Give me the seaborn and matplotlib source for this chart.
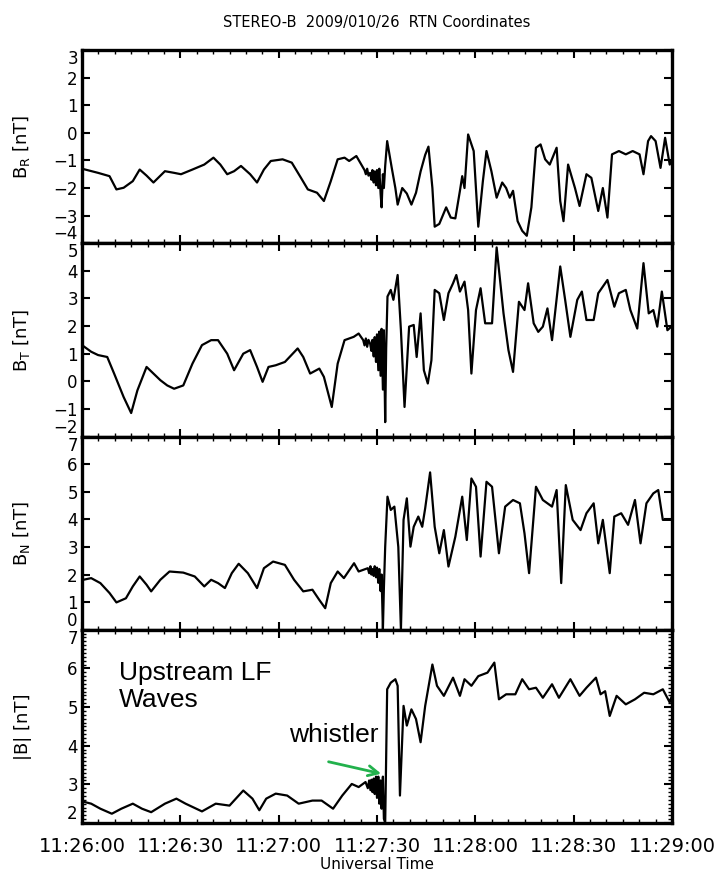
import matplotlib
matplotlib.use("Agg")
import matplotlib.pyplot as plt
import seaborn as sns
import pandas as pd
from matplotlib.ticker import FixedLocator, MultipleLocator

sns.set_style("ticks")
plt.rcParams['font.family'] = ['DejaVu Sans']
for k in ["text.color", "axes.labelcolor", "xtick.color", "ytick.color", "axes.edgecolor"]:
    plt.rcParams[k] = "black"

# ---- data: seconds after 11:26:00 and field values [nT] ----
t_br = [0.0, 4.9, 8.4, 10.5, 12.7, 15.5, 17.6, 19.7, 21.8, 25.3, 28.1, 30.2, 33.7, 37.3, 40.1,
        42.2, 44.3, 46.4, 48.5, 51.3, 53.4, 55.5, 57.6, 61.2, 64.0, 66.8, 68.9, 71.7, 73.8, 75.9,
        78.0, 80.1, 81.5, 83.7, 85.8, 86.2, 86.6, 87.0, 87.4, 87.9, 88.3, 88.6, 89.0, 89.3, 89.7,
        90.0, 90.4, 90.7, 91.1, 91.4, 91.8, 92.1, 92.5, 93.1, 94.5, 95.6, 96.3, 97.7, 99.1, 100.5,
        101.9, 103.3, 104.7, 105.7, 106.9, 107.6, 109.0, 111.1, 112.5, 113.9, 115.3, 116.0, 116.7,
        117.8, 119.5, 120.9, 122.3, 123.4, 124.9, 126.5, 128.2, 129.4, 130.5, 131.5, 132.9, 134.3,
        135.7, 137.1, 138.5, 139.9, 141.3, 142.7, 144.8, 145.9, 146.9, 148.3, 150.4, 151.8, 153.9,
        155.4, 157.5, 158.9, 160.3, 161.7, 163.8, 165.9, 168.0, 170.1, 171.3, 172.7, 173.6, 175.0,
        176.5, 177.9, 179.3, 180.0]
v_br = [-1.3, -1.45, -1.57, -2.05, -1.99, -1.75, -1.33, -1.55, -1.8, -1.39, -1.45, -1.5, -1.33,
        -1.15, -0.9, -1.15, -1.5, -1.39, -1.2, -1.5, -1.8, -1.33, -1.02, -0.96, -1.08, -1.63, -2.05,
        -2.17, -2.47, -1.75, -0.96, -0.9, -1.02, -0.84, -1.27, -1.35, -1.5, -1.3, -1.55, -1.45,
        -1.7, -1.35, -1.8, -1.4, -1.9, -1.35, -2.0, -1.3, -2.2, -2.7, -1.5, -2.0, -1.2, -0.3, -1.27,
        -2.0, -2.6, -2.0, -2.2, -2.6, -2.17, -1.4, -0.8, -0.5, -2.0, -3.4, -3.3, -2.7, -3.07, -3.1,
        -2.1, -1.57, -2.0, -0.06, -0.66, -3.4, -1.75, -0.66, -1.39, -2.35, -1.8, -2.0, -2.35, -2.1,
        -3.2, -3.55, -3.73, -2.7, -0.54, -0.42, -0.96, -1.15, -0.54, -2.47, -3.2, -1.15, -2.0, -2.65,
        -1.5, -1.63, -2.83, -2.0, -3.07, -0.78, -0.66, -0.78, -0.66, -0.78, -1.5, -0.3, -0.12, -0.3,
        -1.27, -0.18, -1.15, -1.0]

t_bt = [0.0, 2.8, 4.9, 7.7, 9.8, 12.7, 15.0, 16.9, 19.7, 21.8, 23.9, 26.0, 28.1, 30.9, 33.7,
        36.6, 39.4, 41.5, 44.3, 46.4, 49.2, 51.3, 53.4, 55.1, 56.9, 59.1, 61.9, 65.8, 67.5, 69.6,
        72.4, 73.8, 76.2, 78.0, 80.1, 82.9, 84.4, 85.8, 86.2, 86.6, 87.0, 87.4, 87.9, 88.3, 88.6,
        89.0, 89.3, 89.7, 90.0, 90.4, 90.7, 91.1, 91.4, 91.8, 92.1, 92.5, 92.8, 93.2, 94.2, 95.0,
        96.3, 97.3, 98.4, 99.8, 101.2, 102.1, 103.3, 104.3, 105.5, 106.6, 107.6, 109.0, 110.4,
        111.8, 113.2, 114.2, 115.3, 116.7, 117.8, 118.8, 120.2, 121.6, 123.0, 125.1, 126.5, 128.6,
        130.1, 131.5, 133.3, 135.0, 136.1, 137.8, 139.2, 140.6, 142.0, 143.4, 145.9, 147.4, 149.0,
        151.1, 152.5, 153.9, 156.1, 157.5, 160.3, 162.4, 163.8, 165.9, 167.3, 169.4, 171.3, 172.9,
        174.3, 175.5, 176.9, 178.6, 180.0]
v_bt = [1.31, 1.07, 0.95, 0.88, 0.28, -0.57, -1.15, -0.33, 0.52, 0.28, 0.04, -0.15, -0.27,
        -0.15, 0.64, 1.31, 1.49, 1.49, 1.0, 0.4, 1.0, 1.13, 0.52, -0.02, 0.52, 0.58, 0.7, 1.19,
        0.88, 0.28, 0.46, 0.16, -0.93, 0.64, 1.49, 1.61, 1.73, 1.49, 1.3, 1.55, 1.25, 1.5, 1.37,
        1.1, 1.5, 0.9, 1.6, 0.7, 1.7, 0.4, 1.8, 0.2, 1.9, -0.3, 1.85, -1.48, 1.2, 3.07, 3.31, 2.95,
        3.85, 1.85, -0.93, 1.98, 2.04, 0.88, 2.46, 0.4, -0.08, 0.76, 3.31, 3.19, 2.22, 3.19, 3.55,
        3.85, 3.25, 3.61, 2.58, 0.28, 2.58, 3.37, 2.1, 2.1, 4.85, 2.46, 1.13, 0.34, 2.88, 2.58,
        3.55, 2.1, 1.79, 1.98, 2.64, 1.49, 4.16, 2.95, 1.61, 2.95, 3.25, 2.22, 2.22, 3.19, 3.67,
        2.7, 3.19, 3.31, 2.58, 1.91, 4.28, 2.46, 2.58, 1.98, 3.25, 1.85, 2.0]

t_bn = [0.0, 2.8, 5.6, 8.4, 10.5, 13.4, 15.5, 17.6, 19.7, 21.1, 23.9, 26.7, 30.9, 34.4, 37.3,
        39.4, 41.5, 43.6, 45.7, 47.8, 50.6, 53.4, 55.5, 58.3, 61.9, 64.7, 67.5, 70.3, 72.4, 74.2,
        75.9, 78.0, 79.9, 83.0, 84.4, 87.2, 87.6, 88.0, 88.3, 88.6, 89.0, 89.3, 89.7, 90.0, 90.4,
        90.7, 91.1, 91.4, 91.8, 92.1, 92.5, 93.2, 94.2, 95.3, 96.5, 97.3, 98.1, 99.1, 100.2, 101.2,
        102.6, 103.8, 104.7, 106.2, 107.6, 109.0, 110.4, 111.8, 113.9, 116.0, 117.4, 118.8, 120.2,
        121.6, 123.4, 125.1, 127.2, 129.1, 131.5, 133.6, 135.0, 136.4, 138.5, 140.6, 143.4, 144.8,
        146.2, 147.6, 149.7, 152.1, 153.9, 156.1, 157.5, 158.9, 161.0, 162.4, 164.5, 166.6, 168.7,
        170.4, 172.2, 174.3, 175.8, 177.2, 180.0]
v_bn = [1.8, 1.87, 1.69, 1.33, 0.99, 1.14, 1.57, 1.93, 1.63, 1.39, 1.81, 2.11, 2.07, 1.93, 1.57,
        1.81, 1.69, 1.51, 2.05, 2.39, 2.05, 1.51, 2.23, 2.47, 2.35, 1.81, 1.39, 1.45, 1.08, 0.78,
        1.69, 2.11, 1.87, 2.41, 2.11, 2.23, 2.05, 2.3, 2.0, 2.2, 1.95, 2.3, 1.9, 2.25, 1.7, 2.2, 1.4,
        2.0, 0.0, 1.5, 3.01, 4.82, 4.34, 4.46, 3.0, 0.0, 3.98, 4.76, 3.01, 3.73, 4.1, 3.73, 4.4,
        5.7, 3.73, 2.77, 3.61, 2.29, 3.37, 4.82, 3.25, 5.48, 5.18, 2.65, 5.36, 5.18, 2.77, 4.46,
        4.7, 4.58, 3.49, 2.05, 5.18, 4.7, 4.46, 5.06, 1.69, 5.24, 3.98, 3.61, 4.22, 4.58, 3.13,
        3.98, 2.05, 4.1, 4.22, 3.8, 4.7, 3.13, 4.58, 4.94, 5.06, 3.98, 3.98]

t_bm = [0.0, 2.8, 5.6, 9.1, 12.0, 15.5, 18.3, 21.1, 25.3, 28.8, 31.6, 36.6, 40.8, 45.0, 49.2,
        52.0, 54.1, 56.2, 59.1, 62.6, 66.1, 70.3, 73.1, 76.6, 79.4, 82.3, 84.4, 86.5,
        87.2, 87.6, 88.0, 88.3, 88.6, 89.0, 89.3, 89.7, 90.0, 90.4, 90.7, 91.1, 91.4, 91.8, 92.1,
        92.5,
        93.1, 94.2, 95.6, 96.3, 97.0, 98.1, 99.1, 100.5, 101.9, 103.3, 104.7, 106.9, 108.3, 110.4,
        113.2, 115.3, 116.7, 118.8, 120.9, 123.7, 125.8, 127.2, 129.4, 132.2, 134.3, 136.4, 138.5,
        140.6, 143.4, 145.5, 149.0, 151.8, 153.9, 156.8, 158.2, 159.6, 161.0, 163.1, 165.9, 168.7,
        171.5, 174.3, 177.2, 179.3, 180.0]
v_bm = [2.56, 2.5, 2.37, 2.24, 2.37, 2.5, 2.37, 2.28, 2.5, 2.63, 2.5, 2.3, 2.5, 2.45, 2.84, 2.63,
        2.33, 2.63, 2.76, 2.71, 2.5, 2.58, 2.58, 2.37, 2.71, 3.01, 2.93, 3.06,
        2.9, 3.1, 2.85, 3.12, 2.8, 3.15, 2.75, 3.2, 2.65, 3.2, 2.5, 3.1, 2.37, 3.2, 2.11,
        2.0,
        5.46, 5.63, 5.72, 5.55, 2.71, 5.03, 4.52, 4.94, 4.69, 4.09, 5.03, 6.1, 5.55, 5.29, 5.76,
        5.29, 5.72, 5.55, 5.8, 5.89, 6.15, 5.2, 5.33, 5.33, 5.72, 5.46, 5.5, 5.24, 5.59, 5.24,
        5.72, 5.29, 5.5, 5.76, 5.33, 5.41, 4.77, 5.29, 5.07, 5.2, 5.37, 5.33, 5.46, 5.12, 5.3]

series = [(t_br, v_br), (t_bt, v_bt), (t_bn, v_bn), (t_bm, v_bm)]
y_labels = ["B$_\\mathregular{R}$ [nT]", "B$_\\mathregular{T}$ [nT]", "B$_\\mathregular{N}$ [nT]", "|B| [nT]"]
y_limits = [(-4, 3), (-2, 5), (0, 7), (2, 7)]
x_tick_pos = [0, 30, 60, 90, 120, 150, 180]
x_tick_labels = ["11:26:00", "11:26:30", "11:27:00", "11:27:30", "11:28:00", "11:28:30", "11:29:00"]
title = "STEREO-B  2009/010/26  RTN Coordinates"

# ---- figure ----
fig = plt.figure(figsize=(7.22, 8.72), dpi=100)
gs = fig.add_gridspec(4, 1, left=82/722, right=672/722, top=1-50/872, bottom=1-823/872, hspace=0)
axes = [fig.add_subplot(gs[i]) for i in range(4)]

for i, ax in enumerate(axes):
    tt, vv = series[i]
    df = pd.DataFrame({"t": tt, "v": vv})
    sns.lineplot(data=df, x="t", y="v", ax=ax, color="black", lw=1.6, estimator=None, sort=False)
    ax.set_xlim(0, 180)
    lo, hi = y_limits[i]
    ax.set_ylim(lo, hi)
    ax.set_yticks(list(range(lo, hi + 1)))
    ax.xaxis.set_major_locator(FixedLocator(x_tick_pos))
    ax.xaxis.set_minor_locator(MultipleLocator(5))
    if i == 3:
        ax.yaxis.set_minor_locator(MultipleLocator(0.1))
    ax.tick_params(axis="both", which="major", direction="in", length=6, width=1.5,
                   top=True, right=True, pad=3)
    ax.tick_params(axis="y", which="major", labelsize=12)
    ax.tick_params(axis="x", which="major", labelsize=14, pad=10)
    ax.tick_params(axis="both", which="minor", direction="in", length=3, width=1.0,
                   top=True, right=True)
    for sp in ax.spines.values():
        sp.set_linewidth(2.4)
    ax.set_ylabel(y_labels[i], fontsize=13)
    ax.yaxis.set_label_coords(-0.085, 0.5)
    if i < 3:
        ax.set_xticklabels([])
        ax.set_xlabel("")
    else:
        ax.set_xticklabels(x_tick_labels)
        ax.set_xlabel("Universal Time", fontsize=11, labelpad=1.0)

# keep the end labels of each panel inside it (as in the reference)
for ax in axes:
    ylabs = ax.get_yticklabels()
    ylabs[0].set_va("bottom")
    ylabs[-1].set_va("top")

fig.text(377/722, 1-22/872, title, ha="center", va="center", fontsize=10.5)

ax4 = axes[3]
ax4.text(11.3, 5.53, "Upstream LF\nWaves", fontsize=19, family=["Liberation Sans", "DejaVu Sans"],
         ha="left", va="center", linespacing=1.15)
ax4.text(63.1, 4.28, "whistler", fontsize=19, family=["Liberation Sans", "DejaVu Sans"],
         ha="left", va="center")
ax4.annotate("", xy=(92.1, 3.26), xytext=(74.4, 3.6),
             arrowprops=dict(arrowstyle="->", color="#22b14c", lw=2, mutation_scale=18))

fig.savefig("out.png", dpi=100)
